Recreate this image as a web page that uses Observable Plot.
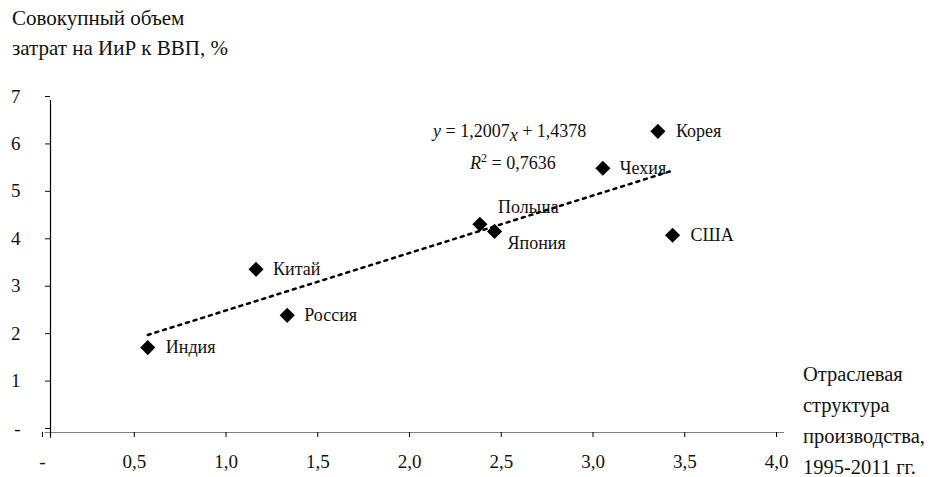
<!DOCTYPE html>
<html><head><meta charset="utf-8">
<script src="https://cdn.jsdelivr.net/npm/d3@7"></script>
<script src="https://cdn.jsdelivr.net/npm/@observablehq/plot@0.6"></script>
<style>
body{margin:0;background:#fff;}
#wrap{position:relative;width:946px;height:477px;font-family:'Liberation Serif','DejaVu Serif',serif;color:#111;}
.t{position:absolute;white-space:nowrap;}
</style></head>
<body><div id="wrap"></div>
<script>
const countries = ["Индия","Китай","Россия","Польша","Япония","Чехия","Корея","США"];
const structure = [0.53,1.12,1.29,2.34,2.42,3.01,3.31,3.39];
const rdShare = [1.79,3.44,2.47,4.39,4.24,5.57,6.35,4.16];
const xTicks = [0,0.5,1,1.5,2,2.5,3,3.5,4];
const yTicks = [0,1,2,3,4,5,6,7];
const labelDx = [18,17,17,18,13,17,18,18];
const labelDy = [0,0,0,-17,12,0,0,0];

const FONT = "'Liberation Serif','DejaVu Serif',serif";
const data = countries.map((c,i)=>({c,x:structure[i],y:rdShare[i],dx:labelDx[i],dy:labelDy[i]}));
const fmt = v => v===0 ? "-" : d3.format(".1f")(v).replace(".",",");
const fmtY = v => v===0 ? "-" : String(v);

const chart = Plot.plot({
  width:946, height:477,
  marginLeft:50, marginRight:162, marginTop:100, marginBottom:45,
  style:{fontFamily:FONT,fontSize:"18px",background:"#fff",color:"#111"},
  x:{domain:[0,4]},
  y:{domain:[0,7]},
  marks:[
    Plot.linearRegressionY(data,{x:"x",y:"y",ci:0,stroke:"#000",strokeWidth:2.5,strokeDasharray:"3,5"}),
    Plot.ruleY([0],{x1:-0.03,x2:4,stroke:"#808080",strokeWidth:1.2}),
    Plot.ruleX([0],{y1:-0.12,y2:7,stroke:"#000",strokeWidth:1.2}),
    Plot.axisX({ticks:xTicks,tickFormat:fmt,tickSize:5,tickPadding:17,dx:-8,label:null,stroke:"#000",fontFamily:FONT,fontSize:19}),
    Plot.axisY({ticks:yTicks,tickFormat:fmtY,tickSize:5,tickPadding:25,dy:-4,label:null,fontFamily:FONT,fontSize:19}),
    Plot.dot(data,{x:"x",y:"y",symbol:"diamond2",r:6.8,fill:"#000",stroke:"none"}),
    ...data.map(d=>Plot.text([d],{x:"x",y:"y",text:"c",textAnchor:"start",dx:d.dx,dy:d.dy,fontSize:18,fontFamily:FONT,fill:"#111"}))
  ]
});
const wrap = document.getElementById("wrap");
chart.style.position="absolute"; chart.style.left="0"; chart.style.top="0";
wrap.appendChild(chart);

function addText(html,left,top,extra){const d=document.createElement("div");d.className="t";d.style.left=left+"px";d.style.top=top+"px";if(extra)Object.assign(d.style,extra);d.innerHTML=html;wrap.appendChild(d);}
addText("Совокупный объем<br>затрат на ИиР к ВВП, %",12,3,{fontSize:"21px",lineHeight:"30px"});
addText("Отраслевая<br>структура<br>производства,<br>1995-2011 гг.",803,359,{fontSize:"20.5px",lineHeight:"31px"});
addText("<i>y</i> = 1,2007<i style='position:relative;top:4px'>x</i> + 1,4378",433,117,{fontSize:"18px",lineHeight:"28px"});
addText("<i>R</i><sup style='font-size:12px'>2</sup> = 0,7636",470,144,{fontSize:"18px",lineHeight:"28px"});
</script></body></html>
